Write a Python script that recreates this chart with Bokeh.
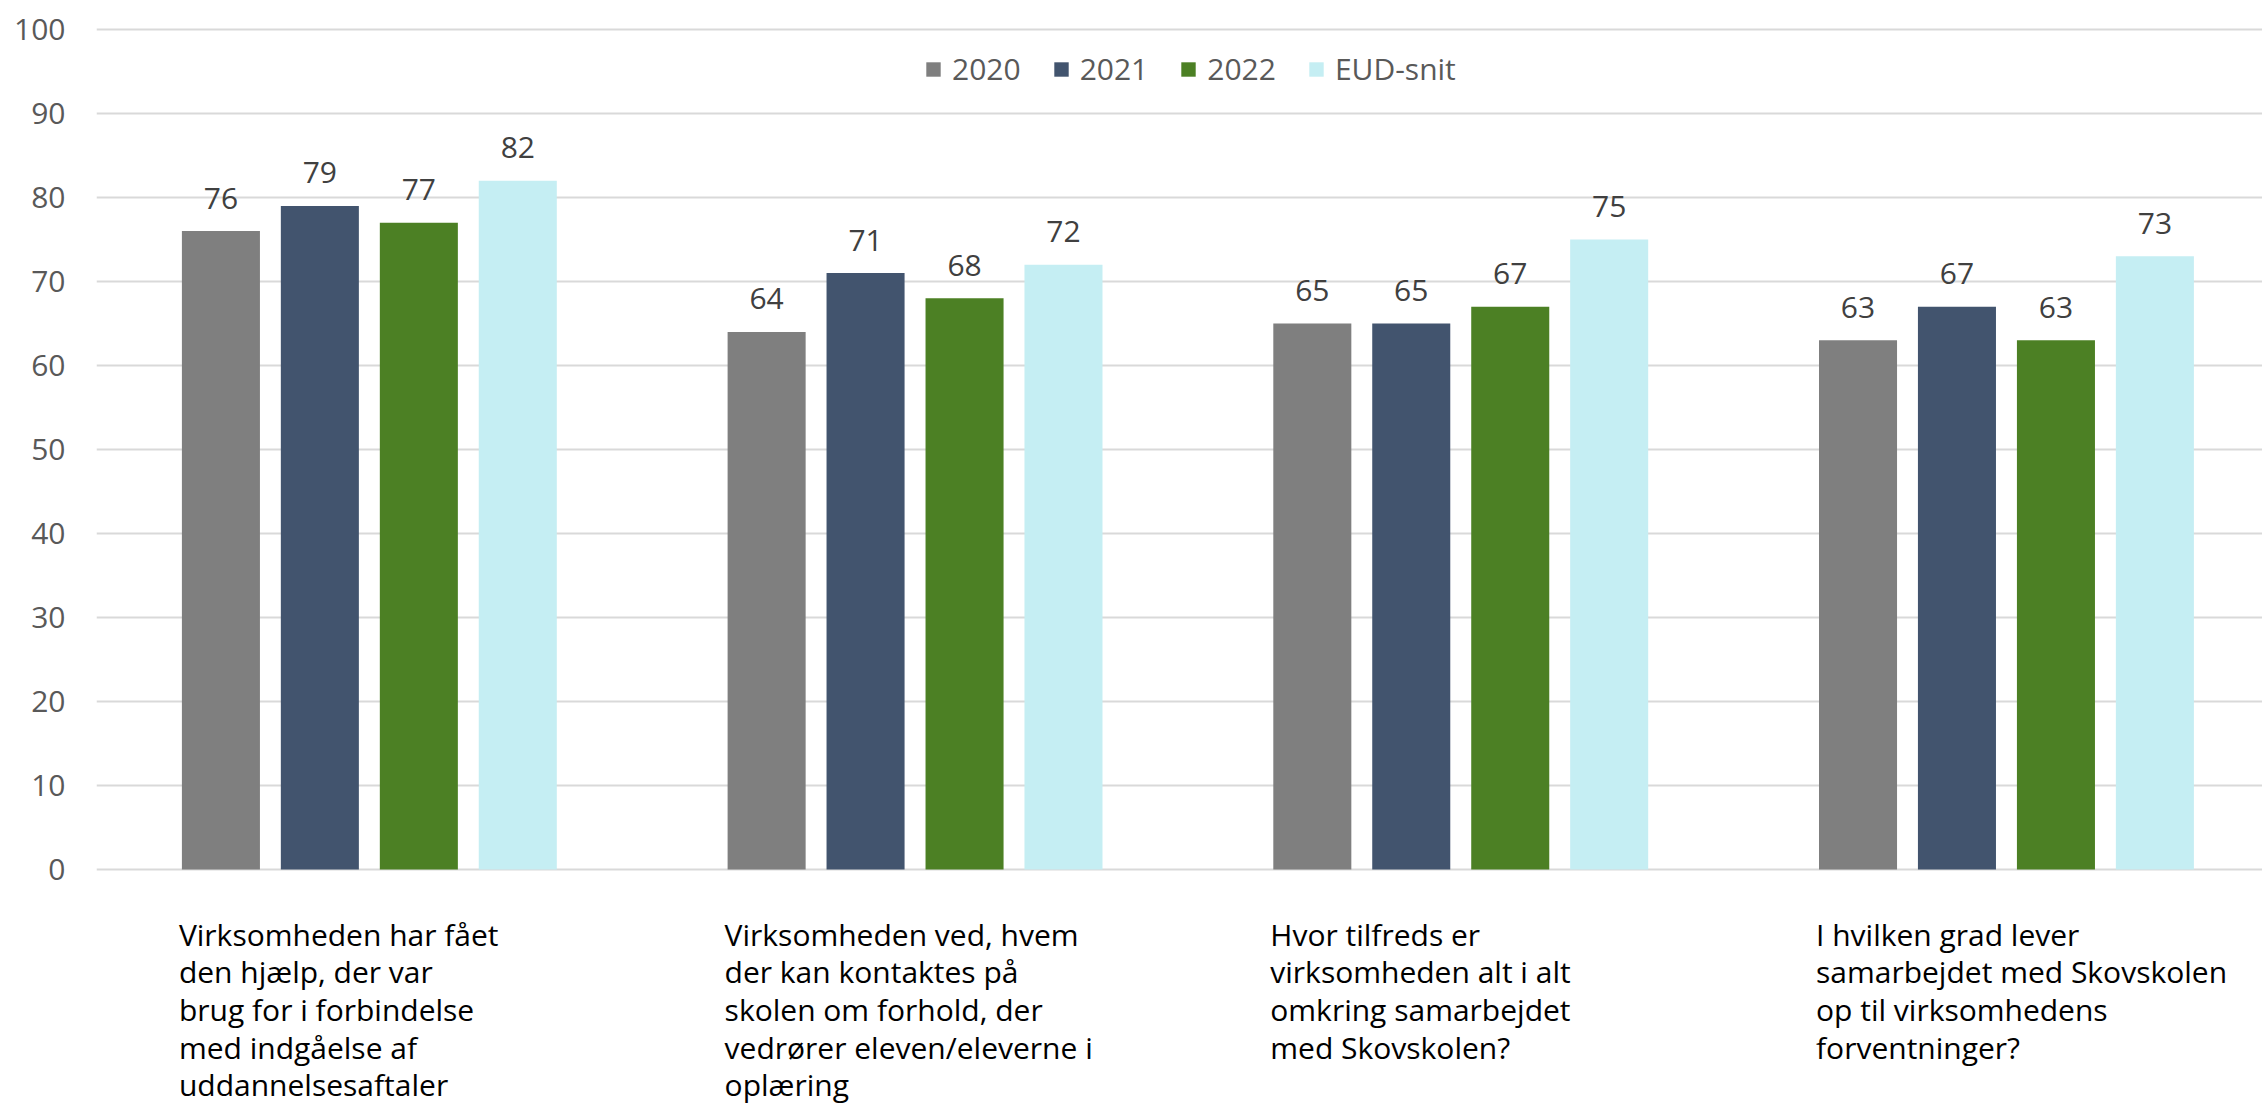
from bokeh.plotting import figure
from bokeh.models import (ColumnDataSource, Range1d, FixedTicker, Legend, LegendItem)
from bokeh.transform import dodge
from bokeh.core.properties import value
from bokeh.embed import file_html
from bokeh.resources import INLINE

# ---------------- data ----------------
categories = [
    "Virksomheden har fået\nden hjælp, der var\nbrug for i forbindelse\nmed indgåelse af\nuddannelsesaftaler",
    "Virksomheden ved, hvem\nder kan kontaktes på\nskolen om forhold, der\nvedrører eleven/eleverne i\noplæring",
    "Hvor tilfreds er\nvirksomheden alt i alt\nomkring samarbejdet\nmed Skovskolen?",
    "I hvilken grad lever\nsamarbejdet med Skovskolen\nop til virksomhedens\nforventninger?",
]
series_names = ["2020", "2021", "2022", "EUD-snit"]
values_2020 = [76, 64, 65, 63]
values_2021 = [79, 71, 65, 67]
values_2022 = [77, 68, 67, 63]
values_eud = [82, 72, 75, 73]
y_ticks = [0, 10, 20, 30, 40, 50, 60, 70, 80, 90, 100]

series_values = [values_2020, values_2021, values_2022, values_eud]
colors = ["#7F7F7F", "#42546E", "#4C8024", "#C5EEF3"]

FONT = "Open Sans"

# ---------------- layout ----------------
W, H = 2262, 1104
left_b, top_b = 96, 24
frame_w = W - left_b
frame_h = H - top_b
px_per_unit = 8.4
cat_px = 545.7
y_end = 100 + 5 / px_per_unit
y_start = y_end - frame_h / px_per_unit
x_start = -0.5
x_end = x_start + frame_w / cat_px

p = figure(width=W, height=H, output_backend="svg", toolbar_location=None,
           x_range=Range1d(x_start, x_end), y_range=Range1d(y_start, y_end),
           min_border_left=left_b, min_border_top=top_b,
           min_border_right=0, min_border_bottom=0)
p.outline_line_color = None
p.xaxis.visible = False
p.xgrid.visible = False

yax = p.yaxis[0]
yax.ticker = FixedTicker(ticks=y_ticks)
yax.axis_line_color = None
yax.major_tick_line_color = None
yax.minor_tick_line_color = None
yax.major_tick_out = 0
yax.major_tick_in = 0
yax.major_label_standoff = 31
yax.major_label_text_font = FONT
yax.major_label_text_font_size = "30px"
yax.major_label_text_color = "#595959"

p.ygrid.ticker = FixedTicker(ticks=y_ticks)
p.ygrid.grid_line_color = "#D9D9D9"
p.ygrid.grid_line_width = 2

idx = list(range(len(categories)))
offsets = [-0.272, -0.0907, 0.0907, 0.272]
bar_w = 0.143

items = []
for name, vals, col, off in zip(series_names, series_values, colors, offsets):
    src = ColumnDataSource(dict(x=idx, top=vals, lbl=[str(v) for v in vals]))
    r = p.vbar(x=dodge("x", off, range=p.x_range), top="top", bottom=0, width=bar_w,
               source=src, fill_color=col, line_color=None)
    p.text(x=dodge("x", off, range=p.x_range), y="top", text="lbl", source=src,
           text_align="center", text_baseline="alphabetic", y_offset=-33,
           text_font=value(FONT), text_font_size="30px", text_color="#404040")
    items.append(LegendItem(label=name, renderers=[r]))

cat_src = ColumnDataSource(dict(x=idx, y=[0] * len(idx), t=categories))
p.text(x=dodge("x", -0.349, range=p.x_range), y="y", text="t", source=cat_src,
       text_align="left", text_baseline="top", y_offset=44,
       text_line_height=0.92,
       text_font=value(FONT), text_font_size="30px", text_color="#000000")

legend = Legend(items=items, orientation="horizontal", location=(828, 1015),
                glyph_width=18, glyph_height=18, label_standoff=10, spacing=31,
                label_text_font=FONT, label_text_font_size="30px",
                label_text_color="#595959", padding=0, margin=0,
                border_line_color=None, background_fill_alpha=0)
p.add_layout(legend)

open("out.html", "w").write(file_html(p, INLINE))
